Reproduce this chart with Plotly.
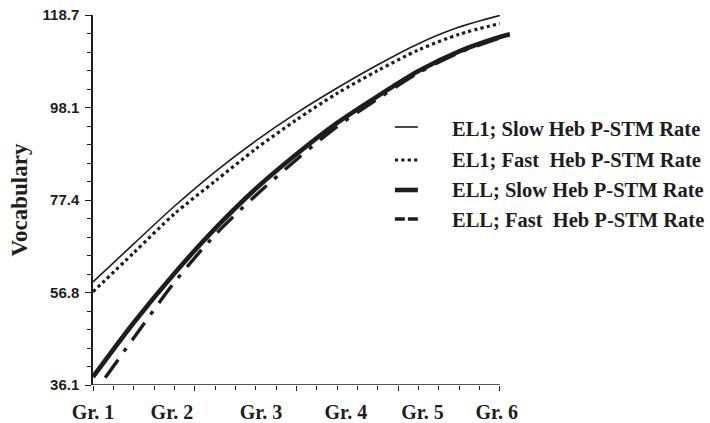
import plotly.graph_objects as go

# ---------------- data ----------------
grade_labels = ["Gr. 1", "Gr. 2", "Gr. 3", "Gr. 4", "Gr. 5", "Gr. 6"]
grade_pos = [0, 3.88, 8.26, 12.43, 16.2, 19.85]

ytick_vals = [36.1, 56.8, 77.4, 98.1, 118.7]
ytick_text = ["36.1", "56.8", "77.4", "98.1", "118.7"]

series_names = [
    "EL1; Slow Heb P-STM Rate",
    "EL1; Fast\u00a0 Heb P-STM Rate",
    "ELL; Slow Heb P-STM Rate",
    "ELL; Fast\u00a0 Heb P-STM Rate",
]

el1_slow_x = [0, 2, 4, 6, 8, 10, 12, 14, 16, 18, 20]
el1_slow_y = [59.1, 67.6, 76.0, 83.7, 90.6, 96.8, 102.4, 107.6, 112.3, 116.0, 118.6]

el1_fast_x = [0, 2, 4, 6, 8, 10, 12, 14, 16, 18, 20]
el1_fast_y = [56.9, 65.6, 74.3, 81.6, 88.8, 95.3, 101.2, 106.3, 110.9, 114.4, 116.8]

ell_slow_x = [0, 2, 4, 6, 8, 10, 12, 14, 16, 18, 20, 20.5]
ell_slow_y = [37.9, 50.0, 61.0, 71.0, 79.9, 87.6, 94.6, 100.6, 106.2, 110.6, 113.8, 114.4]

ell_fast_x = [0.6, 2, 4, 6, 8, 10, 12, 14, 16, 18, 20]
ell_fast_y = [37.7, 46.6, 59.0, 69.6, 78.4, 86.4, 93.8, 100.0, 105.8, 110.3, 113.6]

# ---------------- styles ----------------
INK = "#1e1c1d"
styles = [
    dict(width=1.6, dash="solid"),
    dict(width=3.2, dash="dot"),
    dict(width=4.6, dash="solid"),
    dict(width=3.4, dash="22px,10px,4px,10px"),
]
legend_dash = ["solid", "dot", "solid", "10px,3px"]

# page body margin is removed (see post_script), so positions are on-screen pixels
W, H = 710, 423
XMAX = 20.5
ax_left, ax_right_at20, ax_top, ax_bottom = 93, 500, 15, 385
ML = ax_left
pw = (ax_right_at20 - ax_left) * XMAX / 20.0
MR = W - ML - pw
MT = ax_top
MB = H - ax_bottom
ph = H - MT - MB


def px_x(px):
    return (px - ML) / pw


def px_y(py):
    return (H - MB - py) / ph


fig = go.Figure()
data = [
    (el1_slow_x, el1_slow_y),
    (el1_fast_x, el1_fast_y),
    (ell_slow_x, ell_slow_y),
    (ell_fast_x, ell_fast_y),
]
for (xs, ys), name, st in zip(data, series_names, styles):
    fig.add_trace(go.Scatter(
        x=xs, y=ys, mode="lines", name=name, showlegend=False,
        line=dict(color=INK, width=st["width"], dash=st["dash"],
                  shape="spline", smoothing=0.8),
        hoverinfo="skip",
    ))

# invisible trace to carry the grade labels axis
fig.add_trace(go.Scatter(x=[0, XMAX], y=[36.1, 36.1], xaxis="x2",
                         mode="lines", line=dict(width=0), showlegend=False,
                         hoverinfo="skip"))

# x axis line only to 20
fig.add_shape(type="line", xref="x", yref="y", x0=0, x1=20, y0=36.1, y1=36.1,
              line=dict(color=INK, width=1.5))

# legend drawn manually
leg_sym_y = [127, 160, 190, 219]
leg_txt_y = [129, 160, 190, 220]
leg_w = [1.6, 3.2, 4.6, 3.6]
for i, name in enumerate(series_names):
    fig.add_shape(type="line", xref="paper", yref="paper",
                  x0=px_x(395), x1=px_x(418), y0=px_y(leg_sym_y[i]), y1=px_y(leg_sym_y[i]),
                  line=dict(color=INK, width=leg_w[i], dash=legend_dash[i]))
    fig.add_annotation(xref="paper", yref="paper", x=px_x(451), y=px_y(leg_txt_y[i]),
                       xanchor="left", yanchor="middle", showarrow=False, text=name,
                       borderpad=0,
                       font=dict(family="Liberation Serif", size=20.5, color=INK, weight="bold"))

fig.update_layout(
    width=W, height=H,
    margin=dict(l=ML, r=MR, t=MT, b=MB, pad=0, autoexpand=False),
    plot_bgcolor="white", paper_bgcolor="white",
    showlegend=False,
    xaxis=dict(
        range=[0, XMAX], showgrid=False, zeroline=False, showline=False,
        automargin=False,
        tickvals=[0, 5, 10, 15, 20], showticklabels=False,
        ticks="outside", ticklen=5, tickwidth=1.2, tickcolor=INK,
        minor=dict(dtick=1, tick0=0, ticks="outside", ticklen=4, tickwidth=1.2,
                   tickcolor=INK, showgrid=False),
    ),
    xaxis2=dict(
        range=[0, XMAX], overlaying="x", side="bottom", showgrid=False,
        automargin=False,
        zeroline=False, showline=False, ticks="",
        tickvals=grade_pos, ticktext=grade_labels, ticklabelstandoff=13,
        ticklabeloverflow="allow",
        tickfont=dict(family="Liberation Serif", size=20, color=INK, weight="bold"),
    ),
    yaxis=dict(
        range=[36.1, 118.7], showgrid=False, zeroline=False,
        automargin=False,
        showline=True, linecolor=INK, linewidth=1.5,
        tickvals=ytick_vals, ticktext=ytick_text,
        ticks="outside", ticklen=6, tickwidth=1.2, tickcolor=INK,
        ticklabelstandoff=3, ticklabeloverflow="allow",
        tickfont=dict(family="Liberation Sans", size=15, color=INK, weight="bold"),
        minor=dict(dtick=4.13, tick0=36.1, ticks="outside", ticklen=4, tickwidth=1.2,
                   tickcolor=INK, showgrid=False),
        title=dict(text="Vocabulary", standoff=8,
                   font=dict(family="Liberation Serif", size=23, color=INK, weight="bold")),
    ),
)

fig.write_html("out.html", config={"displayModeBar": False},
               post_script="document.body.style.margin='0px';")
